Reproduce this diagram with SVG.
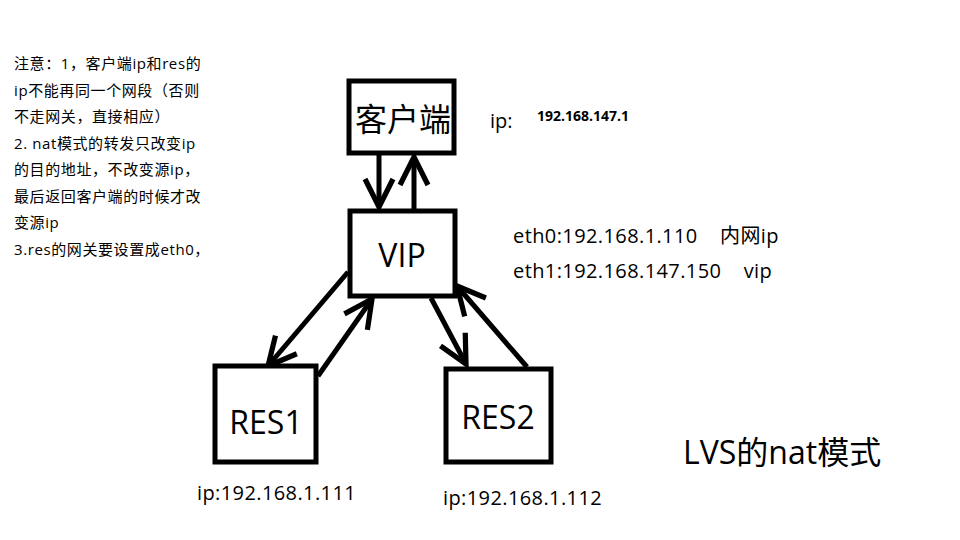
<svg xmlns="http://www.w3.org/2000/svg" width="960" height="540" viewBox="0 0 960 540">
<style>
.box{fill:#fff;stroke:#000;stroke-width:5}
.t{font-family:"Open Sans","Noto Sans CJK SC",sans-serif;fill:#000;white-space:pre}
.big{font-size:32px}
.mid{font-size:20px}
.note{font-size:15px;letter-spacing:0.6px}
.ln{stroke:#000;stroke-width:5;fill:none;stroke-linecap:butt}
</style>
<defs>
<marker id="ah" viewBox="0 0 20 20" refX="18" refY="10" markerWidth="7" markerHeight="7" markerUnits="strokeWidth" orient="auto">
<path d="M2,2 L18,10 L2,18" fill="none" stroke="#000" stroke-width="3"/>
</marker>
</defs>
<rect width="960" height="540" fill="#fff"/>
<g id="notes" class="t note">
<text x="14" y="69">注意：1，客户端ip和res的</text>
<text x="14" y="96">ip不能再同一个网段（否则</text>
<text x="14" y="122">不走网关，直接相应）</text>
<text x="14" y="149">2. nat模式的转发只改变ip</text>
<text x="14" y="175">的目的地址，不改变源ip，</text>
<text x="14" y="202">最后返回客户端的时候才改</text>
<text x="14" y="228">变源ip</text>
<text x="14" y="255">3.res的网关要设置成eth0，</text>
</g>
<g id="connectors">
<line class="ln" x1="379" y1="155" x2="379" y2="207" marker-end="url(#ah)"/>
<line class="ln" x1="414" y1="209" x2="414" y2="157" marker-end="url(#ah)"/>
<line class="ln" x1="348" y1="272" x2="268" y2="366" marker-end="url(#ah)"/>
<line class="ln" x1="318" y1="376" x2="372" y2="299" marker-end="url(#ah)"/>
<line class="ln" x1="431" y1="298" x2="466" y2="364" marker-end="url(#ah)"/>
<line class="ln" x1="527" y1="367" x2="457" y2="286" marker-end="url(#ah)"/>
</g>
<g id="client">
<rect class="box" x="349" y="81" width="105" height="72"/>
<text class="t big" x="403" y="131" text-anchor="middle">客户端</text>
<text class="t mid" x="490" y="128">ip:</text>
<text class="t" x="537" y="121" font-size="14" font-weight="bold">192.168.147.1</text>
</g>
<g id="vip">
<rect class="box" x="350" y="211" width="105" height="85"/>
<text class="t big" x="402" y="267" text-anchor="middle">VIP</text>
<text class="t mid" x="513" y="243" letter-spacing="0.4">eth0:192.168.1.110    内网ip</text>
<text class="t mid" x="513" y="278" letter-spacing="0.4">eth1:192.168.147.150    vip</text>
</g>
<g id="res1">
<rect class="box" x="215" y="366" width="101" height="96"/>
<text class="t big" x="266" y="434" text-anchor="middle">RES1</text>
<text class="t mid" x="197" y="500" letter-spacing="0.4">ip:192.168.1.111</text>
</g>
<g id="res2">
<rect class="box" x="446" y="369" width="105" height="93"/>
<text class="t big" x="498" y="429" text-anchor="middle">RES2</text>
<text class="t mid" x="443" y="505" letter-spacing="0.4">ip:192.168.1.112</text>
</g>
<g id="title">
<text class="t big" x="683" y="464">LVS的nat模式</text>
</g>
</svg>
